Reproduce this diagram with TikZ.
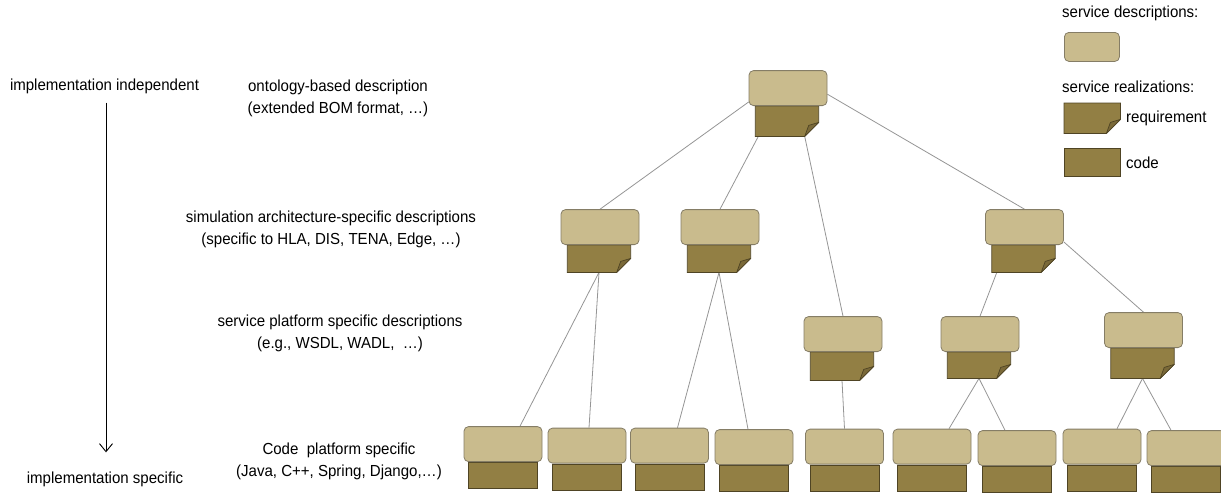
\documentclass[tikz,border=0pt]{standalone}
\usepackage{fontspec}
\setmainfont{Liberation Sans}[FakeStretch=0.94]
\usetikzlibrary{calc,arrows.meta}
\definecolor{descfill}{HTML}{C9BB8D}
\definecolor{descline}{HTML}{857D66}
\definecolor{reqfill}{HTML}{927F44}
\definecolor{reqline}{HTML}{4F4424}
\definecolor{folddark}{HTML}{7A6938}
\definecolor{connline}{HTML}{959595}
\pgfdeclarelayer{bg}
\pgfsetlayers{bg,main}
\tikzset{
  descst/.style={draw=descline, fill=descfill, rounded corners=4.5pt, minimum width=78pt, minimum height=35pt, inner sep=0pt, line width=0.8pt},
  reqst/.style={minimum width=63pt, minimum height=28pt, inner sep=0pt},
  codest/.style={draw=reqline, fill=reqfill, minimum width=69pt, minimum height=26pt, inner sep=0pt, line width=0.8pt},
  conn/.style={draw=connline, line width=0.8pt},
  lbl/.style={font=\fontsize{16}{22}\selectfont, align=center, inner sep=0pt},
  arr/.style={-{Straight Barb[length=8pt,width=13pt]}, line width=0.9pt},
}
\newcommand\drawreq[1]{%
  \path[draw=reqline, fill=reqfill, line width=0.8pt] (#1.north west) -- (#1.north east) -- ($(#1.south east)+(0,-14)$) -- ($(#1.south east)+(-14,0)$) -- (#1.south west) -- cycle;
  \path[draw=reqline, fill=folddark, line width=0.7pt, line join=round] ($(#1.south east)+(-14,0)$) .. controls ($(#1.south east)+(-12,-6)$) .. ($(#1.south east)+(-10,-11)$) -- ($(#1.south east)+(0,-14)$) -- cycle;
}
% name, centre x, top y, requirement height
\newcommand\svreq[4]{%
  \node[reqst, minimum height=#4pt, anchor=north] (#1r) at ($(#2,#3)+(-1,35)$) {};
  \drawreq{#1r}
  \node[descst, anchor=south] (#1) at ($(#1r.north)+(1,0)$) {};
}
% name, centre x, top y
\newcommand\svcode[3]{%
  \node[codest, anchor=north] (#1r) at ($(#2,#3)+(0,35)$) {};
  \node[descst, anchor=south] (#1) at (#1r.north) {};
}
\begin{document}
\begin{tikzpicture}[x=1pt,y=-1pt]
\useasboundingbox (0,0) rectangle (1221,493);
\clip (0,0) rectangle (1221,493);

% left axis
\node[lbl] (ii) at (104.5,86) {implementation independent};
\node[lbl] (is) at (105,479) {implementation specific};
\draw[arr] ($(ii.south)+(1.5,9)$) -- ($(is.north)+(1,-19)$);

% level labels
\node[lbl] (l1t) at (338,98) {ontology-based description\\(extended BOM format, \dots)};
\node[lbl] (l2t) at (331,229.5) {simulation architecture-specific descriptions\\(specific to HLA, DIS, TENA, Edge, …)};
\node[lbl] (l3t) at (340,333) {service platform specific descriptions\\(e.g., WSDL, WADL,\ \ …)};
\node[lbl] (l4t) at (339,461) {Code\ \ platform specific\\(Java, C++, Spring, Django,…)};

% service nodes
\svreq{top}{788}{71}{30}
\svreq{l2a}{600}{210}{27}
\svreq{l2b}{720}{210}{27}
\svreq{l2c}{1024.5}{210}{27}
\svreq{l3a}{843}{317}{28}
\svreq{l3b}{980}{317}{26}
\svreq{l3c}{1143.5}{313}{30}

\svcode{c1}{503}{427}
\svcode{c2}{587}{428.5}
\svcode{c3}{669.5}{428.5}
\svcode{c4}{754}{430}
\svcode{c5}{844.5}{429.5}
\svcode{c6}{932}{429.5}
\svcode{c7}{1017}{431}
\svcode{c8}{1102}{429.5}
\svcode{c9}{1186}{431}

% connectors
\begin{pgfonlayer}{bg}
\draw[conn] ($(top.south west)+(0,-4)$) -- (l2a.north);
\draw[conn] ($(topr.south west)+(3,0)$) -- (l2b.north);
\draw[conn] ($(topr.south east)+(-14,0)$) -- (l3a.north);
\draw[conn] ($(top.north east)+(0,24)$) -- (l2c.north);
\draw[conn] (l2ar.south) -- ($(c1.north)+(17,0)$);
\draw[conn] (l2ar.south) -- ($(c2.north)+(2,0)$);
\draw[conn] (l2br.south) -- ($(c3.north)+(8,0)$);
\draw[conn] (l2br.south) -- ($(c4.north)+(-6,0)$);
\draw[conn] (l3ar.south) -- (c5.north);
\draw[conn] ($(l2cr.south west)+(5,0)$) -- (l3b.north);
\draw[conn] ($(l2c.south east)+(0,-3)$) -- (l3c.north);
\draw[conn] (l3br.south) -- ($(c6.north)+(17,0)$);
\draw[conn] (l3br.south) -- ($(c7.north)+(-12,0)$);
\draw[conn] (l3cr.south) -- ($(c8.north)+(15,0)$);
\draw[conn] (l3cr.south) -- ($(c9.north)+(-15,0)$);
\end{pgfonlayer}

% legend
\node[lbl, anchor=west] (legd) at (1062,13) {service descriptions:};
\node[descst, minimum width=55pt, minimum height=29pt, anchor=north west] (legdb) at (1064,32) {};
\node[lbl, anchor=west] (legr) at (1062,87) {service realizations:};
\node[reqst, minimum width=56pt, minimum height=30pt, anchor=north west] (legrb) at (1064,103) {};
\drawreq{legrb}
\node[lbl, anchor=west] (legrt) at (1126,118) {requirement};
\node[codest, minimum width=56pt, minimum height=28pt, anchor=north west] (legcb) at (1064,148) {};
\node[lbl, anchor=west] (legct) at (1126,163) {code};
\end{tikzpicture}
\end{document}
